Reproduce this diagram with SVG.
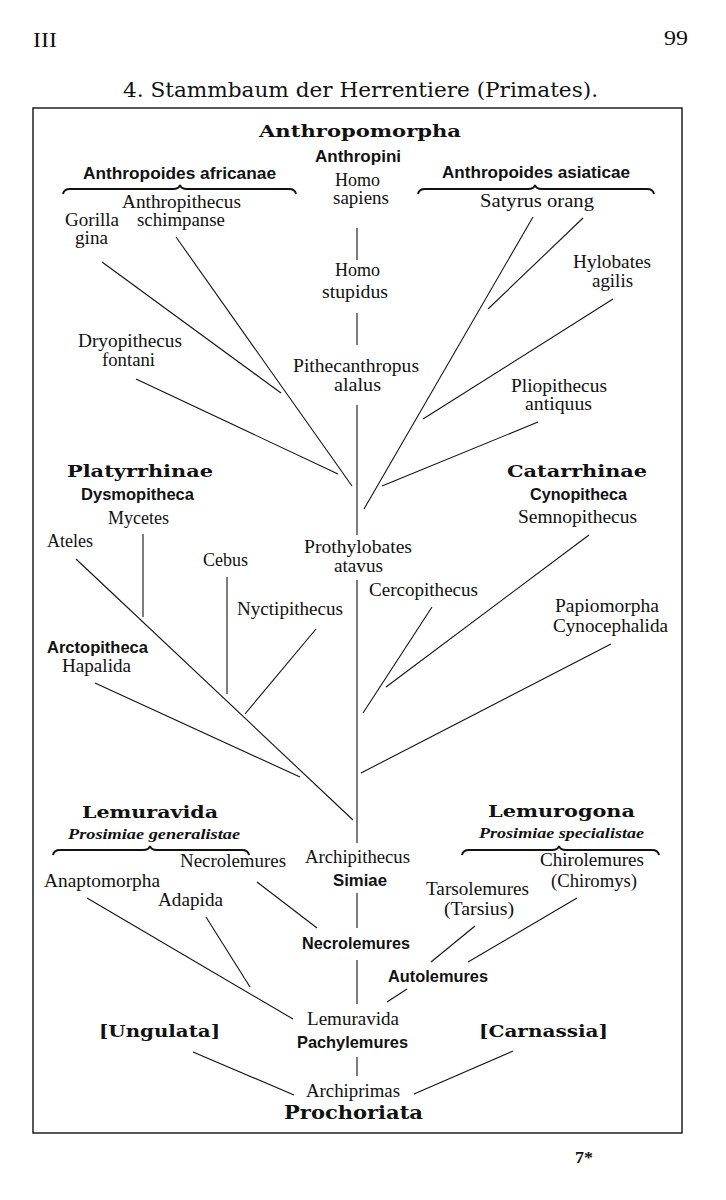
<svg xmlns="http://www.w3.org/2000/svg" width="726" height="1200" viewBox="0 0 726 1200">
<style>
text{fill:#111;}
.r{font-family:"Liberation Serif","DejaVu Serif",serif;font-size:18px;}
.bc{font-family:"Liberation Sans","DejaVu Sans",sans-serif;font-size:17px;font-weight:bold;}
.bw{font-family:"DejaVu Serif","Liberation Serif",serif;font-size:16px;font-weight:bold;}
.it{font-family:"Liberation Serif","DejaVu Serif",serif;font-size:15px;font-weight:bold;font-style:italic;}
.pg{font-family:"Liberation Serif","DejaVu Serif",serif;font-size:21px;}
.ttl{font-family:"DejaVu Serif","Liberation Serif",serif;font-size:21px;}
.ln line{stroke:#111;stroke-width:1.1;}
.brace{fill:none;stroke:#111;stroke-width:2;}
</style>
<rect x="0" y="0" width="726" height="1200" fill="#fff"/>
<g id="page">
<text class="pg" x="33" y="47" textLength="24" lengthAdjust="spacingAndGlyphs">III</text>
<text class="pg" x="664" y="45" textLength="24" lengthAdjust="spacingAndGlyphs">99</text>
<text class="ttl" x="123" y="97" textLength="475" lengthAdjust="spacingAndGlyphs">4. Stammbaum der Herrentiere (Primates).</text>
<rect x="33" y="108" width="649" height="1025" fill="none" stroke="#111" stroke-width="1.4"/>
<text class="pg" x="575" y="1163" style="font-size:17px;font-weight:bold" textLength="18" lengthAdjust="spacingAndGlyphs">7*</text>
</g>
<g id="connectors" class="ln">
<line x1="357" y1="228" x2="357" y2="260"/>
<line x1="357" y1="313" x2="357" y2="345"/>
<line x1="357" y1="405" x2="357" y2="535"/>
<line x1="357" y1="580" x2="357" y2="843"/>
<line x1="357" y1="893" x2="357" y2="928"/>
<line x1="357" y1="960" x2="357" y2="1004"/>
<line x1="357" y1="1057" x2="357" y2="1076"/>
<line x1="102" y1="262" x2="281" y2="393"/>
<line x1="176" y1="237" x2="352" y2="486"/>
<line x1="136" y1="379" x2="338" y2="474"/>
<line x1="533" y1="217" x2="364" y2="509"/>
<line x1="583" y1="218" x2="488" y2="309"/>
<line x1="613" y1="299" x2="423" y2="419"/>
<line x1="538" y1="422" x2="382" y2="486"/>
<line x1="143" y1="534" x2="143" y2="617"/>
<line x1="76" y1="559" x2="353" y2="820"/>
<line x1="227" y1="577" x2="227" y2="694"/>
<line x1="316" y1="629" x2="245" y2="714"/>
<line x1="95" y1="683" x2="300" y2="777"/>
<line x1="589" y1="535" x2="386" y2="687"/>
<line x1="432" y1="607" x2="363" y2="713"/>
<line x1="611" y1="644" x2="361" y2="773"/>
<line x1="257" y1="882" x2="317" y2="928"/>
<line x1="87" y1="898" x2="293" y2="1019"/>
<line x1="206" y1="917" x2="250" y2="987"/>
<line x1="475" y1="926" x2="431" y2="962"/>
<line x1="577" y1="898" x2="468" y2="962"/>
<line x1="407" y1="989" x2="387" y2="1002"/>
<line x1="193" y1="1052" x2="294" y2="1095"/>
<line x1="513" y1="1051" x2="414" y2="1094"/>
</g>
<g id="braces">
<path class="brace" d="M63,194 Q64,189 70,189 L173,189 Q179,189 180,185 Q181,189 187,189 L289,189 Q295,189 296,194"/>
<path class="brace" d="M418,194 Q419,189 425,189 L528,189 Q534,189 535,185 Q536,189 542,189 L647,189 Q653,189 654,194"/>
<path class="brace" d="M53,855 Q54,850 60,850 L143,850 Q149,850 150,846 Q151,850 157,850 L242,850 Q248,850 249,855"/>
<path class="brace" d="M462,855 Q463,850 469,850 L552,850 Q558,850 559,846 Q560,850 566,850 L652,850 Q658,850 659,855"/>
</g>
<g id="anthropomorpha">
<text class="bw" x="259" y="137" textLength="202" lengthAdjust="spacingAndGlyphs" style="font-size:17px">Anthropomorpha</text>
<text class="bc" x="315" y="162" textLength="86" lengthAdjust="spacingAndGlyphs">Anthropini</text>
</g>
<g id="africanae">
<text class="bc" x="83" y="179" textLength="193" lengthAdjust="spacingAndGlyphs">Anthropoides africanae</text>
<text class="r" x="122" y="208" textLength="119" lengthAdjust="spacingAndGlyphs">Anthropithecus</text>
<text class="r" x="65" y="226" textLength="54" lengthAdjust="spacingAndGlyphs">Gorilla</text>
<text class="r" x="137" y="226" textLength="88" lengthAdjust="spacingAndGlyphs">schimpanse</text>
<text class="r" x="75" y="244" textLength="33" lengthAdjust="spacingAndGlyphs">gina</text>
</g>
<g id="homo-sapiens">
<text class="r" x="335" y="186" textLength="45" lengthAdjust="spacingAndGlyphs">Homo</text>
<text class="r" x="333" y="204" textLength="56" lengthAdjust="spacingAndGlyphs">sapiens</text>
</g>
<g id="asiaticae">
<text class="bc" x="442" y="178" textLength="188" lengthAdjust="spacingAndGlyphs">Anthropoides asiaticae</text>
<text class="r" x="480" y="207" textLength="114" lengthAdjust="spacingAndGlyphs">Satyrus orang</text>
</g>
<g id="homo-stupidus">
<text class="r" x="335" y="276" textLength="45" lengthAdjust="spacingAndGlyphs">Homo</text>
<text class="r" x="322" y="298" textLength="66" lengthAdjust="spacingAndGlyphs">stupidus</text>
</g>
<g id="hylobates">
<text class="r" x="573" y="268" textLength="78" lengthAdjust="spacingAndGlyphs">Hylobates</text>
<text class="r" x="592" y="287" textLength="41" lengthAdjust="spacingAndGlyphs">agilis</text>
</g>
<g id="dryopithecus">
<text class="r" x="78" y="347" textLength="104" lengthAdjust="spacingAndGlyphs">Dryopithecus</text>
<text class="r" x="102" y="366" textLength="53" lengthAdjust="spacingAndGlyphs">fontani</text>
</g>
<g id="pithecanthropus">
<text class="r" x="293" y="372" textLength="126" lengthAdjust="spacingAndGlyphs">Pithecanthropus</text>
<text class="r" x="334" y="391" textLength="47" lengthAdjust="spacingAndGlyphs">alalus</text>
</g>
<g id="pliopithecus">
<text class="r" x="511" y="392" textLength="96" lengthAdjust="spacingAndGlyphs">Pliopithecus</text>
<text class="r" x="525" y="410" textLength="67" lengthAdjust="spacingAndGlyphs">antiquus</text>
</g>
<g id="platyrrhinae">
<text class="bw" x="67" y="477" textLength="146" lengthAdjust="spacingAndGlyphs">Platyrrhinae</text>
<text class="bc" x="81" y="500" textLength="113" lengthAdjust="spacingAndGlyphs">Dysmopitheca</text>
</g>
<g id="catarrhinae">
<text class="bw" x="507" y="477" textLength="140" lengthAdjust="spacingAndGlyphs">Catarrhinae</text>
<text class="bc" x="530" y="500" textLength="97" lengthAdjust="spacingAndGlyphs">Cynopitheca</text>
</g>
<g id="mycetes"><text class="r" x="108" y="524" textLength="61" lengthAdjust="spacingAndGlyphs">Mycetes</text></g>
<g id="semnopithecus"><text class="r" x="518" y="523" textLength="119" lengthAdjust="spacingAndGlyphs">Semnopithecus</text></g>
<g id="ateles"><text class="r" x="47" y="547" textLength="46" lengthAdjust="spacingAndGlyphs">Ateles</text></g>
<g id="prothylobates">
<text class="r" x="304" y="553" textLength="108" lengthAdjust="spacingAndGlyphs">Prothylobates</text>
<text class="r" x="334" y="572" textLength="49" lengthAdjust="spacingAndGlyphs">atavus</text>
</g>
<g id="cebus"><text class="r" x="203" y="566" textLength="45" lengthAdjust="spacingAndGlyphs">Cebus</text></g>
<g id="cercopithecus"><text class="r" x="369" y="596" textLength="109" lengthAdjust="spacingAndGlyphs">Cercopithecus</text></g>
<g id="nyctipithecus"><text class="r" x="237" y="615" textLength="106" lengthAdjust="spacingAndGlyphs">Nyctipithecus</text></g>
<g id="papiomorpha">
<text class="r" x="555" y="612" textLength="104" lengthAdjust="spacingAndGlyphs">Papiomorpha</text>
<text class="r" x="553" y="632" textLength="115" lengthAdjust="spacingAndGlyphs">Cynocephalida</text>
</g>
<g id="arctopitheca">
<text class="bc" x="47" y="653" textLength="101" lengthAdjust="spacingAndGlyphs">Arctopitheca</text>
<text class="r" x="62" y="672" textLength="69" lengthAdjust="spacingAndGlyphs">Hapalida</text>
</g>
<g id="lemuravida-group">
<text class="bw" x="82" y="818" textLength="136" lengthAdjust="spacingAndGlyphs">Lemuravida</text>
<text class="it" x="68" y="839" textLength="172" lengthAdjust="spacingAndGlyphs">Prosimiae generalistae</text>
</g>
<g id="lemurogona-group">
<text class="bw" x="488" y="817" textLength="147" lengthAdjust="spacingAndGlyphs">Lemurogona</text>
<text class="it" x="479" y="838" textLength="165" lengthAdjust="spacingAndGlyphs">Prosimiae specialistae</text>
</g>
<g id="necrolemures-leaf"><text class="r" x="180" y="867" textLength="106" lengthAdjust="spacingAndGlyphs">Necrolemures</text></g>
<g id="simiae">
<text class="r" x="305" y="863" textLength="105" lengthAdjust="spacingAndGlyphs">Archipithecus</text>
<text class="bc" x="333" y="886" textLength="54" lengthAdjust="spacingAndGlyphs">Simiae</text>
</g>
<g id="chirolemures">
<text class="r" x="540" y="866" textLength="104" lengthAdjust="spacingAndGlyphs">Chirolemures</text>
<text class="r" x="551" y="887" textLength="86" lengthAdjust="spacingAndGlyphs">(Chiromys)</text>
</g>
<g id="anaptomorpha"><text class="r" x="44" y="887" textLength="116" lengthAdjust="spacingAndGlyphs">Anaptomorpha</text></g>
<g id="adapida"><text class="r" x="158" y="906" textLength="65" lengthAdjust="spacingAndGlyphs">Adapida</text></g>
<g id="tarsolemures">
<text class="r" x="426" y="895" textLength="103" lengthAdjust="spacingAndGlyphs">Tarsolemures</text>
<text class="r" x="444" y="915" textLength="70" lengthAdjust="spacingAndGlyphs">(Tarsius)</text>
</g>
<g id="necrolemures"><text class="bc" x="302" y="949" textLength="108" lengthAdjust="spacingAndGlyphs">Necrolemures</text></g>
<g id="autolemures"><text class="bc" x="388" y="982" textLength="100" lengthAdjust="spacingAndGlyphs">Autolemures</text></g>
<g id="pachylemures">
<text class="r" x="307" y="1025" textLength="92" lengthAdjust="spacingAndGlyphs">Lemuravida</text>
<text class="bc" x="297" y="1048" textLength="111" lengthAdjust="spacingAndGlyphs">Pachylemures</text>
</g>
<g id="ungulata"><text class="bw" x="99" y="1037" textLength="121" lengthAdjust="spacingAndGlyphs">[Ungulata]</text></g>
<g id="carnassia"><text class="bw" x="479" y="1037" textLength="129" lengthAdjust="spacingAndGlyphs">[Carnassia]</text></g>
<g id="prochoriata">
<text class="r" x="306" y="1097" textLength="94" lengthAdjust="spacingAndGlyphs">Archiprimas</text>
<text class="bw" x="284" y="1119" textLength="139" lengthAdjust="spacingAndGlyphs" style="font-size:18px">Prochoriata</text>
</g>
</svg>
